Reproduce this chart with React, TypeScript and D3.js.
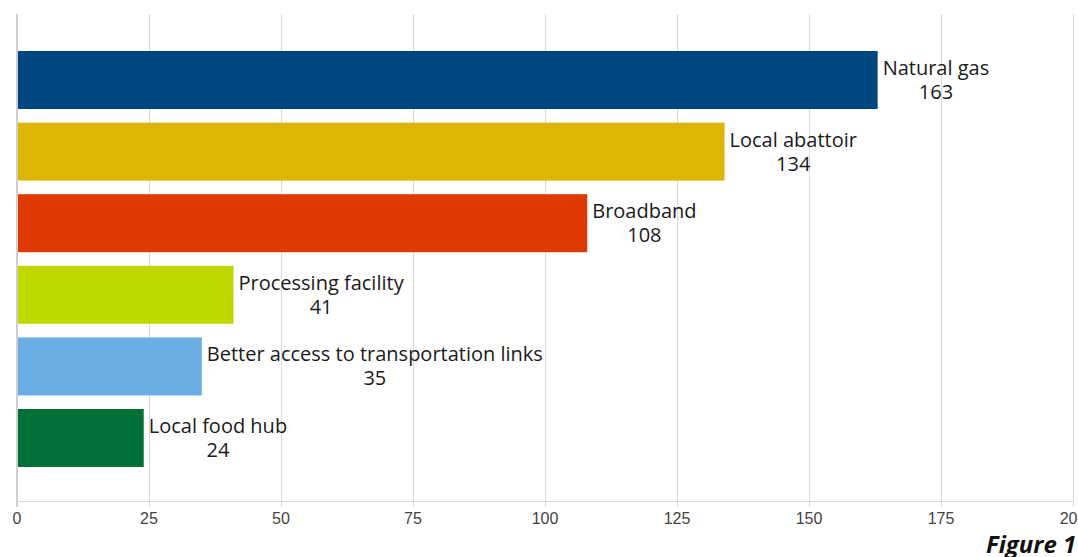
import { useRef, useEffect } from 'react'
import * as d3 from 'd3'

const categories = [
  'Natural gas',
  'Local abattoir',
  'Broadband',
  'Processing facility',
  'Better access to transportation links',
  'Local food hub',
]
const values = [163, 134, 108, 41, 35, 24]
const colors = ['#004781', '#deb505', '#e03a00', '#bfd800', '#6aade4', '#007039']
const xTicks = [0, 25, 50, 75, 100, 125, 150, 175, 200]

const width = 1078
const height = 557

const App = () => {
  const svgRef = useRef<SVGSVGElement>(null)

  useEffect(() => {
    if (!svgRef.current) return
    const svg = d3.select(svgRef.current)
    svg.selectAll('*').remove()

    const plot = { left: 17, right: 1073, top: 14, bottom: 501 }

    const x = d3.scaleLinear().domain([0, 200]).range([plot.left, plot.right])
    const y = d3
      .scaleBand<string>()
      .domain(categories)
      .range([44.2, 473.8])
      .paddingInner(0.19)
      .paddingOuter(0.095)

    // vertical grid lines
    svg.append('g')
      .selectAll('line')
      .data(xTicks.slice(1))
      .join('line')
      .attr('x1', d => x(d) + 0.5)
      .attr('x2', d => x(d) + 0.5)
      .attr('y1', plot.top)
      .attr('y2', plot.bottom)
      .attr('stroke', '#d9d9d9')
      .attr('stroke-width', 1)

    // axis lines
    svg.append('line')
      .attr('x1', plot.left).attr('x2', plot.right)
      .attr('y1', plot.bottom + 0.5).attr('y2', plot.bottom + 0.5)
      .attr('stroke', '#d9d9d9')
    svg.append('line')
      .attr('x1', plot.left).attr('x2', plot.left)
      .attr('y1', plot.top).attr('y2', plot.bottom + 6)
      .attr('stroke', '#cfcfcf')
      .attr('stroke-width', 2)
    svg.append('g')
      .selectAll('line')
      .data(xTicks.slice(1))
      .join('line')
      .attr('x1', d => x(d) + 0.5)
      .attr('x2', d => x(d) + 0.5)
      .attr('y1', plot.bottom)
      .attr('y2', plot.bottom + 6)
      .attr('stroke', '#d9d9d9')

    // tick labels
    svg.append('g')
      .selectAll('text')
      .data(xTicks)
      .join('text')
      .attr('x', d => x(d))
      .attr('y', 524)
      .attr('text-anchor', 'middle')
      .style('font-family', '"Liberation Sans", Arial, sans-serif')
      .style('font-size', '16px')
      .attr('fill', '#444')
      .text(d => d)

    // bars
    svg.append('g')
      .selectAll('rect')
      .data(values)
      .join('rect')
      .attr('x', x(0) + 1)
      .attr('y', (_, i) => y(categories[i]) ?? 0)
      .attr('width', d => x(d) - x(0) - 1)
      .attr('height', y.bandwidth())
      .attr('fill', (_, i) => colors[i])

    // labels: name on first line, value centred underneath
    const labels = svg.append('g')
      .style('font-family', '"Open Sans", "Noto Sans", sans-serif')
      .style('font-size', '20px')
      .attr('fill', '#1a1a1a')

    values.forEach((v, i) => {
      const top = y(categories[i]) ?? 0
      const x0 = x(v) + 5
      const name = labels.append('text')
        .attr('x', x0)
        .attr('y', top + 24)
        .text(categories[i])
      const w = (name.node() as SVGTextElement).getComputedTextLength()
      labels.append('text')
        .attr('x', x0 + w / 2)
        .attr('y', top + 48)
        .attr('text-anchor', 'middle')
        .text(v)
    })

    // figure caption (cut off at the edge)
    svg.append('text')
      .attr('x', 986)
      .attr('y', 553)
      .style('font-family', '"Open Sans", "Noto Sans", sans-serif')
      .style('font-size', '24px')
      .style('font-weight', 'bold')
      .style('font-style', 'italic')
      .attr('fill', '#111')
      .text('Figure 1')
  }, [])

  return (
    <div style={{ position: 'absolute', left: 0, top: 0, width, height, background: '#fff' }}>
      <svg ref={svgRef} width={width} height={height} style={{ display: 'block' }} />
    </div>
  )
}

export default App
